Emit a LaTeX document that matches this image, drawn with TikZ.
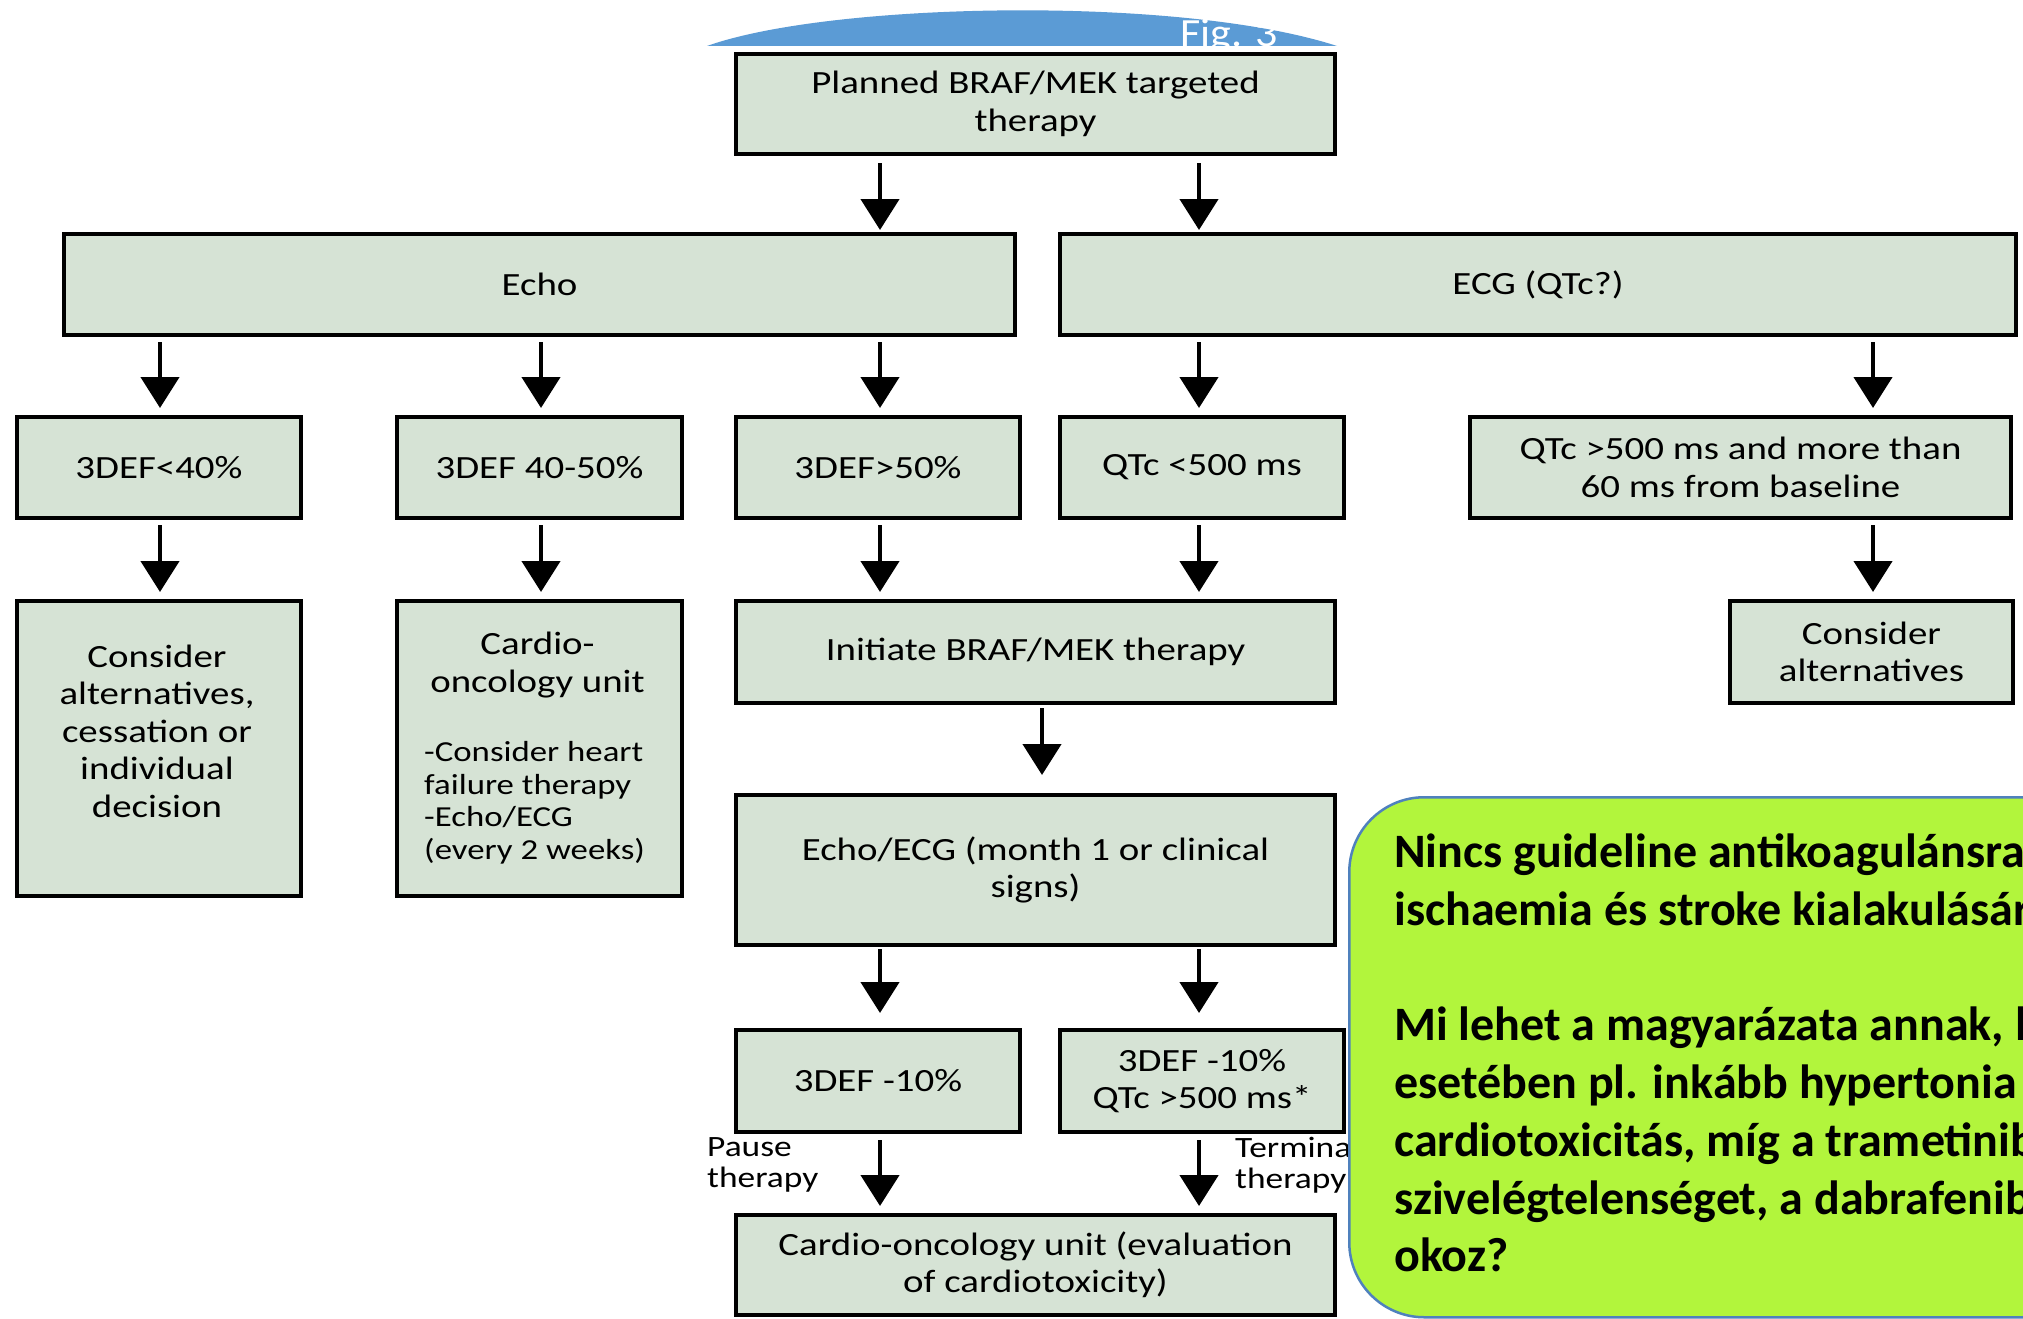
\documentclass[tikz,border=0pt]{standalone}
\usepackage{fontspec}
\setmainfont{Carlito}[FakeStretch=1.2]
\newfontfamily\notefont{Carlito}
\newfontfamily\figfont{Carlito}[FakeStretch=1.1]
\usetikzlibrary{arrows.meta}
\definecolor{boxfill}{RGB}{214,227,213}
\definecolor{limefill}{RGB}{178,245,60}
\definecolor{limeborder}{RGB}{79,129,189}
\definecolor{arcblue}{RGB}{91,155,213}
\tikzset{
  box/.style={draw=black, line width=4pt, fill=boxfill, inner sep=0pt, align=center,
    anchor=north west, font=\fontsize{32.4}{37.5}\selectfont},
  boxtext/.style={inner sep=0pt, align=center, font=\fontsize{32.4}{37.5}\selectfont},
  listtext/.style={inner sep=0pt, align=left, anchor=west, font=\fontsize{29}{32.5}\selectfont},
  sidelabel/.style={inner sep=0pt, align=left, anchor=west, font=\fontsize{29.5}{31}\selectfont},
  arr/.style={line width=4.5pt, -{Triangle[width=38pt,length=31pt]}},
  note/.style={draw=limeborder, line width=2.5pt, fill=limefill, rounded corners=75pt,
    anchor=north west, inner sep=0pt},
  noteline/.style={inner sep=0pt, anchor=base west, font=\notefont\bfseries\fontsize{48}{57}\selectfont}
}
\begin{document}
\begin{tikzpicture}[x=1pt,y=-1pt]
\clip (0,0) rectangle (2023,1319);
\fill[white] (0,0) rectangle (2023,1319);
% column coordinates
\coordinate (xa) at (880,0);
\coordinate (xb) at (1199,0);
\coordinate (xc) at (160,0);
\coordinate (xd) at (541,0);
\coordinate (xe) at (1873,0);
\coordinate (xf) at (1042,0);
% title arc
\fill[arcblue] (707,46) .. controls (830,2) and (1180,-5) .. (1337,46) -- cycle;
\node[inner sep=0pt, anchor=base west, text=white, font=\figfont\fontsize{40}{44}\selectfont] (fig) at (1180,47) {Fig. 3};
% boxes
\node[box, minimum width=599, minimum height=100] (plan) at (734,52) {Planned BRAF/MEK targeted\\therapy};
\node[box, minimum width=951, minimum height=101] (echo) at (62,232) {Echo};
\node[box, minimum width=956, minimum height=101] (ecg) at (1058,232) {ECG (QTc?)};
\node[box, minimum width=284, minimum height=101] (d40) at (15,415) {3DEF<40\%};
\node[box, minimum width=285, minimum height=101] (d4050) at (395,415) {3DEF 40-50\%};
\node[box, minimum width=284, minimum height=101] (d50) at (734,415) {3DEF>50\%};
\node[box, minimum width=284, minimum height=101] (q500) at (1058,415) {QTc <500 ms};
\node[box, minimum width=541, minimum height=101] (q500b) at (1468,415) {QTc >500 ms and more than\\60 ms from baseline};
\node[box, minimum width=284, minimum height=295] (consalt) at (15,599) {};
\node[boxtext] (consalttext) at (157,731) {Consider\\alternatives,\\cessation or\\individual\\decision};
\node[box, minimum width=285, minimum height=295] (cardio) at (395,599) {};
\node[boxtext] (cardiotitle) at (537.5,665) {Cardio-\\oncology unit};
\node[listtext] (cardiolist) at (424,803) {-Consider heart\\failure therapy\\-Echo/ECG\\(every 2 weeks)};
\node[box, minimum width=599, minimum height=102] (init) at (734,599) {Initiate BRAF/MEK therapy};
\node[box, minimum width=283, minimum height=102] (consalt2) at (1728,599) {Consider\\alternatives};
\node[box, minimum width=599, minimum height=150] (echoecg) at (734,793) {Echo/ECG (month 1 or clinical\\signs)};
\node[box, minimum width=284, minimum height=102] (d10) at (734,1028) {3DEF -10\%};
\node[box, minimum width=284, minimum height=102] (d10q) at (1058,1028) {3DEF -10\%\\QTc >500 ms*};
\node[box, minimum width=599, minimum height=100] (final) at (734,1213) {Cardio-oncology unit (evaluation\\of cardiotoxicity)};
% arrows
\draw[arr, shorten <=7pt, shorten >=2pt] (plan.south -| xa) -- (echo.north -| xa);
\draw[arr, shorten <=7pt, shorten >=2pt] (plan.south -| xb) -- (ecg.north -| xb);
\draw[arr, shorten <=5pt, shorten >=7pt] (echo.south -| xc) -- (d40.north -| xc);
\draw[arr, shorten <=5pt, shorten >=7pt] (echo.south -| xd) -- (d4050.north -| xd);
\draw[arr, shorten <=5pt, shorten >=7pt] (echo.south -| xa) -- (d50.north -| xa);
\draw[arr, shorten <=5pt, shorten >=7pt] (ecg.south -| xb) -- (q500.north -| xb);
\draw[arr, shorten <=5pt, shorten >=7pt] (ecg.south -| xe) -- (q500b.north -| xe);
\draw[arr, shorten <=5pt, shorten >=7pt] (d40.south -| xc) -- (consalt.north -| xc);
\draw[arr, shorten <=5pt, shorten >=7pt] (d4050.south -| xd) -- (cardio.north -| xd);
\draw[arr, shorten <=5pt, shorten >=7pt] (d50.south -| xa) -- (init.north -| xa);
\draw[arr, shorten <=5pt, shorten >=7pt] (q500.south -| xb) -- (init.north -| xb);
\draw[arr, shorten <=5pt, shorten >=7pt] (q500b.south -| xe) -- (consalt2.north -| xe);
\draw[arr, shorten <=3pt, shorten >=18pt] (init.south -| xf) -- (echoecg.north -| xf);
\draw[arr, shorten <=2pt, shorten >=15pt] (echoecg.south -| xa) -- (d10.north -| xa);
\draw[arr, shorten <=2pt, shorten >=15pt] (echoecg.south -| xb) -- (d10q.north -| xb);
\draw[arr, shorten <=6pt, shorten >=7pt] (d10.south -| xa) -- (final.north -| xa);
\draw[arr, shorten <=6pt, shorten >=7pt] (d10q.south -| xb) -- (final.north -| xb);
% side labels
\node[sidelabel] (pause) at (707,1165) {Pause\\therapy};
\node[sidelabel] (term) at (1235,1165) {Termina\\therapy};
% note
\node[note, minimum width=760, minimum height=520] (note) at (1348,796) {};
\node[noteline] (n1) at (1394,867) {Nincs guideline antikoagulánsra};
\node[noteline] (n2) at (1394,925) {ischaemia és stroke kialakulásár};
\node[noteline] (n3) at (1394,1040) {Mi lehet a magyarázata annak, h};
\node[noteline] (n4) at (1394,1098) {esetében pl. inkább hypertonia};
\node[noteline] (n5) at (1394,1156) {cardiotoxicitás, míg a trametinib};
\node[noteline] (n6) at (1394,1214) {szivelégtelenséget, a dabrafenib};
\node[noteline] (n7) at (1394,1271) {okoz?};
\end{tikzpicture}
\end{document}
